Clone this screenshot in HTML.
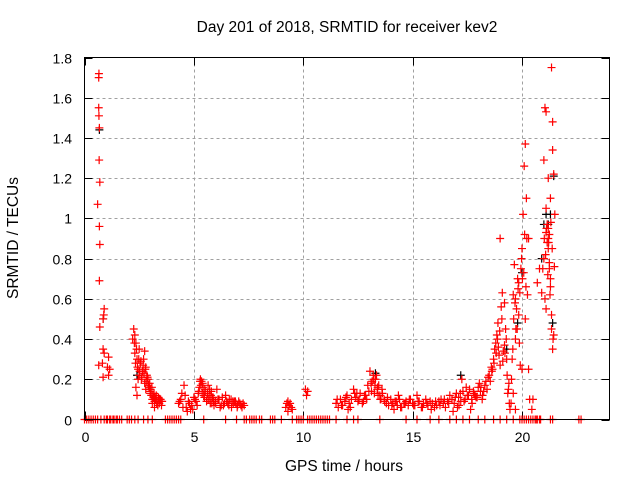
<!DOCTYPE html>
<html><head><meta charset="utf-8"><style>
body{margin:0;background:#fff;font-family:"Liberation Sans",sans-serif}
svg text{font-family:"Liberation Sans",sans-serif;font-size:14px;fill:#000}
svg text.big{font-size:15.5px}
</style></head><body>
<svg id="chart" width="640" height="480" viewBox="0 0 640 480" xmlns="http://www.w3.org/2000/svg">
<rect width="640" height="480" fill="#fff"/>
<text class="big" x="347" y="32" text-anchor="middle">Day 201 of 2018, SRMTID for receiver kev2</text>
<text class="big" x="344" y="471" text-anchor="middle">GPS time / hours</text>
<text class="big" transform="translate(18,238) rotate(-90)" text-anchor="middle">SRMTID / TECUs</text>
<g id="grid"></g>
<g id="ticks"></g>
<g id="marks"></g>
<rect x="84.5" y="57.5" width="525" height="362" fill="none" stroke="#000" stroke-width="1"/>
</svg>
<script>
const xTicks=[0,5,10,15,20];
const yTicks=[0,0.2,0.4,0.6,0.8,1,1.2,1.4,1.6,1.8];
const yTickLabels=["0","0.2","0.4","0.6","0.8","1","1.2","1.4","1.6","1.8"];
const times=[0.6,0.65,0.66,0.65,0.66,0.68,0.67,0.7,0.68,0.7,0.68,0.7,0.9,0.88,0.85,0.85,0.9,0.65,0.85,0.82,1.1,1.05,1.1,1.15,
2.2,2.25,2.3,2.3,2.35,2.4,2.4,2.45,2.5,2.5,2.55,2.6,2.65,2.7,2.75,2.8,2.85,2.9,2.95,3.0,3.05,3.1,3.15,3.2,3.3,3.4,3.5,2.75,2.8,2.9,3.0,3.1,3.2,3.35,3.45,2.35,2.45,
2.28,2.33,2.38,2.42,2.48,2.52,2.58,2.62,2.68,2.72,2.78,2.82,2.88,2.92,2.98,3.02,3.08,3.12,3.18,3.22,3.25,3.28,3.32,3.38,3.42,3.48,3.52,3.55,
4.3,4.4,4.5,4.6,4.7,4.8,4.9,5.0,5.1,5.2,5.3,5.4,5.5,5.6,5.7,5.8,5.9,6.0,6.1,6.2,6.3,6.4,6.5,6.6,6.7,6.8,6.9,7.0,7.1,7.2,7.3,5.25,5.35,5.45,5.65,5.75,5.85,6.05,6.25,4.55,4.95,5.15,6.45,6.85,
4.65,4.75,4.85,5.05,5.22,5.28,5.32,5.38,5.42,5.48,5.52,5.58,5.62,5.68,5.72,5.78,5.82,5.88,5.92,5.98,6.15,6.35,6.55,6.62,6.72,6.78,6.92,6.98,7.05,7.15,7.25,4.45,4.35,
9.2,9.3,9.35,9.4,9.5,9.3,10.1,10.15,10.2,9.25,9.45,
11.5,11.6,11.7,11.8,11.9,12.0,12.1,12.2,12.3,12.4,12.5,12.6,12.7,12.8,12.9,13.0,13.1,13.2,13.3,13.4,13.5,13.6,13.7,13.8,13.9,14.0,14.1,14.2,14.3,14.4,14.5,14.6,14.7,14.8,14.9,15.0,15.1,15.2,15.3,15.4,15.5,15.6,15.7,15.8,15.9,16.0,16.1,16.2,16.3,16.4,16.5,16.6,16.7,16.8,16.9,17.0,17.1,17.2,17.3,17.4,17.5,17.6,17.7,17.8,17.9,18.0,18.1,18.2,18.3,18.4,
12.05,12.45,12.95,13.05,13.15,13.25,13.35,13.45,13.55,14.15,14.35,16.85,17.05,17.25,17.45,17.65,17.85,18.05,18.25,18.45,
11.55,11.75,11.95,12.15,12.35,12.55,12.75,12.85,13.12,13.22,13.28,13.38,13.42,13.52,13.62,13.72,13.85,14.05,14.25,14.45,14.65,14.85,15.05,15.25,15.45,15.65,15.85,16.05,16.25,16.45,16.65,16.95,17.12,17.18,17.35,17.55,17.72,17.78,17.95,18.12,18.18,18.35,
18.5,18.6,18.7,18.8,18.85,18.9,18.95,19.0,19.05,19.1,19.15,19.2,19.25,19.3,19.35,19.4,19.45,18.55,18.65,18.75,19.0,19.2,
18.62,18.72,18.82,18.88,18.92,18.98,19.08,19.12,19.22,19.28,19.32,19.38,19.42,
19.5,19.6,19.65,19.7,19.75,19.8,19.85,19.9,19.95,20.0,20.05,20.1,20.15,20.2,20.25,20.3,20.35,19.55,19.62,19.7,19.78,19.85,19.92,20.0,20.08,20.15,20.22,20.3,20.45,20.5,19.6,19.7,
19.52,19.58,19.68,19.72,19.82,19.88,19.98,20.02,20.12,20.18,
20.9,20.95,21.0,21.05,21.1,21.15,21.2,21.25,21.3,21.35,21.4,21.45,21.5,21.0,21.05,21.1,21.15,21.2,21.25,21.3,21.35,21.4,21.45,21.1,21.2,21.3,21.4,21.25,21.35,21.1,21.2,20.8,20.7,
21.02,21.08,21.12,21.18,21.22,21.28,21.32,21.38,21.42,21.48];
const values=[1.07,1.70,1.72,1.55,1.51,1.45,1.29,1.18,0.96,0.87,0.69,0.46,0.55,0.52,0.50,0.35,0.33,0.27,0.21,0.28,0.31,0.26,0.22,0.25,
0.40,0.45,0.42,0.33,0.38,0.30,0.12,0.25,0.35,0.22,0.28,0.20,0.24,0.30,0.34,0.26,0.22,0.18,0.16,0.14,0.12,0.10,0.11,0.09,0.08,0.10,0.09,0.18,0.15,0.20,0.13,0.08,0.06,0.07,0.10,0.16,0.20,
0.38,0.28,0.35,0.26,0.30,0.24,0.29,0.21,0.27,0.23,0.25,0.19,0.21,0.17,0.18,0.15,0.16,0.12,0.13,0.11,0.10,0.12,0.09,0.11,0.08,0.10,0.07,0.09,
0.08,0.10,0.06,0.12,0.04,0.08,0.07,0.11,0.09,0.13,0.20,0.18,0.15,0.10,0.12,0.14,0.09,0.08,0.10,0.06,0.11,0.08,0.09,0.07,0.10,0.08,0.09,0.07,0.08,0.06,0.07,0.16,0.19,0.12,0.17,0.08,0.11,0.15,0.07,0.17,0.05,0.07,0.12,0.09,
0.06,0.09,0.05,0.10,0.14,0.19,0.17,0.13,0.16,0.11,0.14,0.09,0.13,0.10,0.15,0.12,0.08,0.11,0.07,0.09,0.10,0.07,0.08,0.10,0.06,0.09,0.08,0.06,0.09,0.07,0.08,0.13,0.09,
0.06,0.09,0.07,0.08,0.05,0.04,0.15,0.12,0.14,0.08,0.06,
0.08,0.06,0.10,0.07,0.09,0.12,0.08,0.10,0.15,0.11,0.09,0.13,0.08,0.12,0.10,0.14,0.18,0.22,0.20,0.16,0.12,0.15,0.10,0.08,0.07,0.10,0.08,0.09,0.07,0.10,0.06,0.08,0.09,0.07,0.10,0.08,0.07,0.12,0.09,0.06,0.08,0.10,0.07,0.09,0.08,0.06,0.07,0.09,0.10,0.08,0.06,0.09,0.12,0.10,0.08,0.13,0.11,0.09,0.14,0.10,0.12,0.15,0.10,0.13,0.11,0.16,0.14,0.12,0.17,0.15,
0.05,0.13,0.17,0.24,0.19,0.13,0.22,0.17,0.10,0.05,0.12,0.04,0.06,0.20,0.16,0.05,0.12,0.18,0.14,0.21,
0.10,0.07,0.11,0.06,0.13,0.10,0.09,0.12,0.14,0.20,0.17,0.15,0.12,0.10,0.13,0.09,0.11,0.07,0.09,0.06,0.08,0.10,0.07,0.09,0.06,0.08,0.05,0.09,0.07,0.10,0.08,0.11,0.07,0.13,0.09,0.12,0.08,0.14,0.11,0.16,0.10,0.19,
0.22,0.26,0.30,0.38,0.42,0.48,0.32,0.27,0.56,0.63,0.34,0.37,0.45,0.30,0.13,0.18,0.05,0.19,0.25,0.35,0.90,0.58,
0.24,0.28,0.33,0.40,0.36,0.44,0.50,0.29,0.33,0.40,0.22,0.15,0.08,
0.08,0.62,0.77,0.40,0.55,0.70,0.52,0.63,0.75,0.85,1.02,1.26,1.37,1.10,0.62,0.25,0.10,0.30,0.50,0.60,0.45,0.68,0.27,0.25,0.73,0.50,0.90,0.90,0.05,0.10,0.13,0.05,
0.20,0.35,0.58,0.45,0.65,0.38,0.80,0.70,0.92,0.66,
0.63,0.75,1.29,1.55,1.05,0.97,0.85,0.92,0.70,1.75,1.48,1.22,1.02,0.80,0.60,0.93,0.88,1.20,0.78,0.66,0.45,0.35,0.42,0.55,0.95,1.10,1.34,0.75,0.52,1.53,0.90,0.75,0.68,
0.90,0.82,0.95,0.72,0.88,0.62,0.98,0.85,0.40,0.76];
const zeroTimes=[0.0,0.1,0.2,0.3,0.4,0.5,0.6,0.75,0.9,1.0,1.05,1.15,1.2,1.3,1.35,1.45,1.5,1.6,1.7,1.95,2.05,2.15,2.3,2.45,2.7,2.9,3.1,3.7,3.8,3.9,4.0,4.1,4.2,4.3,4.4,5.45,6.45,6.95,7.3,7.4,7.55,7.65,7.75,7.85,8.0,8.1,8.5,8.6,8.7,9.0,9.5,9.7,9.8,9.9,10.0,10.2,10.3,10.4,10.5,10.6,10.7,10.8,10.9,11.0,11.1,11.2,11.5,12.0,12.3,12.5,13.5,14.7,15.2,15.8,16.2,16.7,17.0,17.3,17.6,18.0,18.3,18.7,19.0,19.3,19.6,19.9,20.0,20.1,20.2,20.3,20.4,20.5,20.6,20.65,20.7,20.8,20.85,21.3,21.4,22.6,22.7];
const darkTimes=[0.68,0.85,2.4,3.0,13.3,17.2,19.3,19.8,20.0,20.9,21.0,21.1,21.2,21.3,21.4,21.45];
const darkValues=[1.44,0.50,0.22,0.15,0.23,0.22,0.35,0.48,0.73,0.80,0.97,1.02,0.97,1.02,0.48,1.21];
const X0=84.5,X1=609.5,Y0=419.5,Y1=57.5;
const xs=v=>X0+(v/24)*(X1-X0);
const ys=v=>Y0-(v/1.8)*(Y0-Y1);
const NS="http://www.w3.org/2000/svg";
const grid=document.getElementById('grid'),ticks=document.getElementById('ticks'),marks=document.getElementById('marks');
function mk(tag,attrs,parent){const e=document.createElementNS(NS,tag);for(const k in attrs)e.setAttribute(k,attrs[k]);parent.appendChild(e);return e;}
xTicks.forEach(t=>{const x=Math.round(xs(t))+0.5;
 if(t>0){const g=mk('line',{x1:x,x2:x,y1:Y1,y2:Y0,stroke:'#a0a0a0','stroke-dasharray':'3,3'},grid);
 
 }
 mk('line',{x1:x,x2:x,y1:Y0,y2:Y0-8,stroke:'#000'},ticks);
 mk('line',{x1:x,x2:x,y1:Y1,y2:Y1+8,stroke:'#000'},ticks);
 const l=mk('text',{x:x,y:442,'text-anchor':'middle'},ticks);l.textContent=t;
 
 });
yTicks.forEach((t,i)=>{const y=Math.round(ys(t))+0.5;
 if(t>0&&t<1.8){const g=mk('line',{x1:X0,x2:X1,y1:y,y2:y,stroke:'#a0a0a0','stroke-dasharray':'3,3'},grid);
 
 }
 mk('line',{x1:X0,x2:X0+8,y1:y,y2:y,stroke:'#000'},ticks);
 mk('line',{x1:X1,x2:X1-8,y1:y,y2:y,stroke:'#000'},ticks);
 const l=mk('text',{x:72,y:y+5,'text-anchor':'end'},ticks);l.textContent=yTickLabels[i];
 
 });
function plus(x,y,col){const p=mk('path',{d:`M${x-4},${y}h8M${x},${y-4}v8`,stroke:col,'stroke-width':1.2,fill:'none'},marks);return p;}
darkTimes.forEach((t,i)=>{const p=plus(xs(t),ys(darkValues[i]),'#000');
 
 });
times.forEach((t,i)=>{const p=plus(xs(t),ys(values[i]),'#ff0000');
 
 });
zeroTimes.forEach(t=>{const p=plus(xs(t),Y0,'#ff0000');
 
 });
</script>
</body></html>
